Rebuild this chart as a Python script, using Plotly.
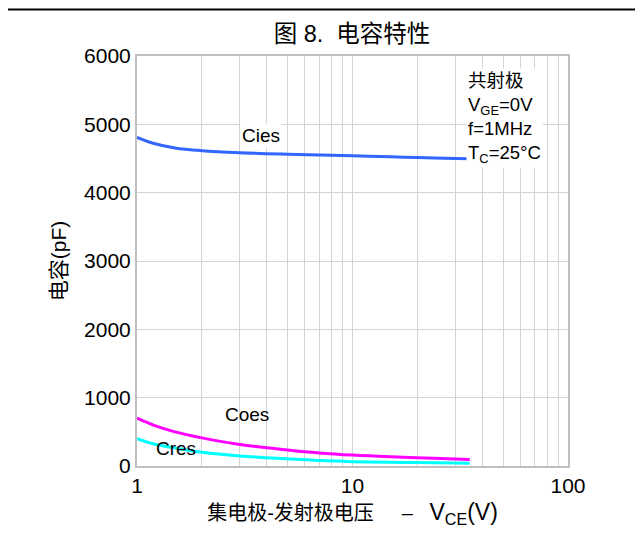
import plotly.graph_objects as go

# Data
vce = [1, 1.2, 1.5, 2, 3, 5, 7, 10, 15, 20, 30, 35]
cies = [4810, 4720, 4655, 4615, 4585, 4562, 4550, 4540, 4525, 4515, 4500, 4495]
coes = [700, 595, 500, 412, 315, 235, 192, 160, 135, 122, 102, 96]
cres = [400, 322, 262, 200, 146, 104, 80, 64, 54, 50, 44, 42]

x_ticks = [1, 10, 100]
y_ticks = [0, 1000, 2000, 3000, 4000, 5000, 6000]

FONT = "Liberation Sans, Arial, Noto Sans CJK SC, sans-serif"
NB = "\u00a0"

fig = go.Figure()
fig.add_trace(go.Scatter(x=vce, y=cies, mode="lines", line=dict(color="#3366ff", width=3, shape="spline"), name="Cies"))
fig.add_trace(go.Scatter(x=vce, y=coes, mode="lines", line=dict(color="#ff00ff", width=3, shape="spline"), name="Coes"))
fig.add_trace(go.Scatter(x=vce, y=cres, mode="lines", line=dict(color="#00ffff", width=3, shape="spline"), name="Cres"))

fig.update_layout(
    width=643, height=541,
    margin=dict(l=129, r=83, t=48, b=83),
    paper_bgcolor="white", plot_bgcolor="white",
    showlegend=False,
    font=dict(family=FONT, size=20, color="black"),
    title=dict(text="图" + NB + "8." + NB + NB + "电容特性", x=0.535, xanchor="center", y=0.953, yanchor="middle",
               font=dict(family=FONT, size=23.5, color="black")),
)

x_title = ("集电极-发射极电压" + NB * 5 + "–" + NB * 3 +
           '<span style="font-size:23px">V<sub>CE</sub>(V)</span>')

fig.update_xaxes(
    type="log", range=[0, 2],
    tickvals=x_ticks, ticktext=[str(v) for v in x_ticks],
    showgrid=True, gridcolor="#d4d4d4", gridwidth=1,
    minor=dict(showgrid=True, gridcolor="#d4d4d4", gridwidth=1, dtick="D1"),
    showline=True, linecolor="#bfbfbf", linewidth=2, mirror=True,
    ticks="", ticklen=0,
    title=dict(text=x_title, standoff=10, font=dict(family=FONT, size=20)),
    tickfont=dict(size=21),
)
fig.update_yaxes(
    range=[0, 6000], tickvals=y_ticks,
    showgrid=True, gridcolor="#d4d4d4", gridwidth=1,
    showline=True, linecolor="#bfbfbf", linewidth=2, mirror=True,
    ticks="", zeroline=False,
    title=dict(text="电容(pF)", standoff=12, font=dict(family=FONT, size=21)),
    tickfont=dict(size=21),
)

# Curve labels
fig.add_annotation(x=0.575, y=4830, xref="x", yref="y", text="Cies", showarrow=False,
                   bgcolor="white", font=dict(size=19, family=FONT))
fig.add_annotation(x=0.51, y=761, xref="x", yref="y", text="Coes", showarrow=False,
                   font=dict(size=19, family=FONT))
fig.add_annotation(x=0.181, y=263, xref="x", yref="y", text="Cres", showarrow=False,
                   font=dict(size=19, family=FONT))

# Conditions box
fig.add_annotation(x=1.528, y=5830, xref="x", yref="y", xanchor="left", yanchor="top", align="left",
                   text="共射极<br>V<sub>GE</sub>=0V<br>f=1MHz<br>T<sub>C</sub>=25°C",
                   showarrow=False, bgcolor="white", font=dict(size=18.5, family=FONT))

# Top separator line
fig.add_shape(type="line", xref="paper", yref="paper", x0=-0.4, x1=1.3, y0=1.1134, y1=1.1134,
              line=dict(color="black", width=2))

fig.write_html("out.html")
